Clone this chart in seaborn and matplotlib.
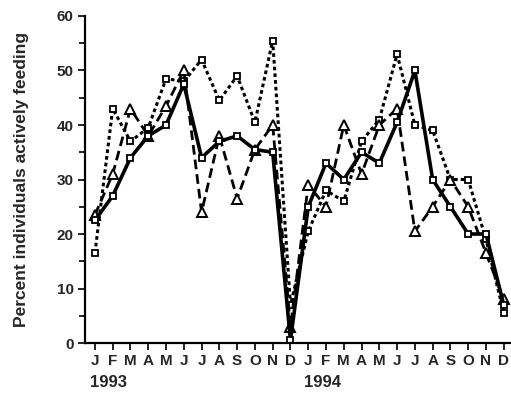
import numpy as np
import pandas as pd
import matplotlib as mpl
import matplotlib.pyplot as plt
import matplotlib.transforms as mtransforms
import seaborn as sns

sns.set_style("ticks")
plt.rcParams['font.family'] = ['Liberation Sans', 'DejaVu Sans']
plt.rcParams['font.weight'] = 'bold'

# month labels for two years
months = ["J", "F", "M", "A", "M", "J", "J", "A", "S", "O", "N", "D"] * 2
years = ["1993", "1994"]

# percent of individuals actively feeding
solid_sq = [22.5, 27, 34, 38, 40, 47.5, 34, 37, 38, 35.5, 35, 0.5,
            25, 33, 30, 35, 33, 40.5, 50, 30, 25, 20, 20, 7]
dashed_tri = [23.5, 31, 43, 38, 43.5, 50, 24, 38, 26.5, 35.5, 40, 3,
              29, 25, 40, 31, 40, 43, 20.5, 25, 30, 25, 16.5, 8]
dotted_sq = [16.5, 43, 37, 39.5, 48.5, 48, 52, 44.5, 49, 40.5, 55.5, 7,
             20.5, 28, 26, 37, 41, 53, 40, 39, 30, 30, 19, 5.5]

idx = np.arange(len(months))
df = pd.DataFrame({"month": idx, "solid": solid_sq,
                   "dashed": dashed_tri, "dotted": dotted_sq})

fig = plt.figure(figsize=(5.11, 3.93), dpi=100)
ax = fig.add_axes([0.1663, 0.1272, 0.8317, 0.8321])

sns.lineplot(data=df, x="month", y="dotted", ax=ax, color="black",
             linestyle=(0, (1.2, 1)), linewidth=2.2, marker="s", markersize=5,
             markerfacecolor="white", markeredgecolor="black", markeredgewidth=1.3)
sns.lineplot(data=df, x="month", y="dashed", ax=ax, color="black",
             linestyle=(0, (3.5, 1.8)), linewidth=2, marker="^", markersize=7.5,
             markerfacecolor="white", markeredgecolor="black", markeredgewidth=1.4)
sns.lineplot(data=df, x="month", y="solid", ax=ax, color="black",
             linestyle="-", linewidth=2.6, marker="s", markersize=4.5,
             markerfacecolor="white", markeredgecolor="black", markeredgewidth=1.3)

ax.set_xlim(-0.56, 23.35)
ax.set_ylim(0, 60)
ax.set_xticks(idx)
ax.set_xticklabels(months, fontsize=11, fontweight="bold")
ax.set_yticks(range(0, 61, 10))
ax.set_yticklabels([str(v) for v in range(0, 61, 10)], fontsize=11, fontweight="bold")
ax.yaxis.set_minor_locator(mpl.ticker.MultipleLocator(5))
ax.tick_params(axis="both", which="major", length=5, width=1.2, color="black", pad=3)
ax.tick_params(axis="y", which="minor", length=4, width=1.2, color="black")
ax.set_xlabel("")
ax.set_ylabel("Percent individuals actively feeding", fontsize=12.5,
              fontweight="bold", labelpad=20)
sns.despine(ax=ax)
for side in ["left", "bottom"]:
    ax.spines[side].set_linewidth(1.6)
    ax.spines[side].set_color("black")

trans = mtransforms.blended_transform_factory(ax.transData, ax.transAxes)
for i, yr in enumerate(years):
    ax.text(i * 12 - 0.25, -0.12, yr, transform=trans, ha="left", va="center",
            fontsize=12, fontweight="bold")

fig.savefig("out.png", dpi=100)
